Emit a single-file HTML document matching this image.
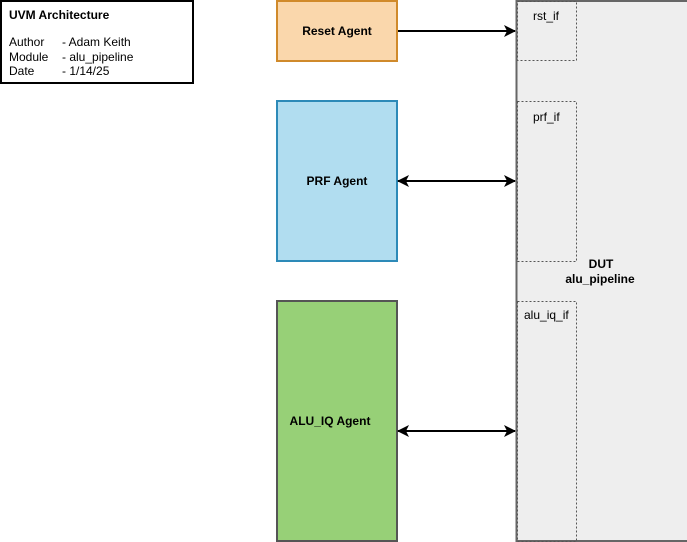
<!DOCTYPE html>
<html><head><meta charset="utf-8"><style>
html,body{margin:0;padding:0;background:#fff;width:687px;height:542px;overflow:hidden}
svg{display:block;font-family:"Liberation Sans",Arial,sans-serif}
</style></head><body>
<svg width="687" height="542" viewBox="0 0 687 542" xmlns="http://www.w3.org/2000/svg">
<defs>
<marker id="a" viewBox="0 0 12 12" refX="11" refY="6" markerWidth="12" markerHeight="12" markerUnits="userSpaceOnUse" orient="auto-start-reverse">
<path d="M0,0 L12,6 L0,12 L3,6 Z" fill="#000"/></marker>
</defs>
<rect x="1" y="1" width="192" height="82" fill="#fff" stroke="#000" stroke-width="2"/>
<text x="9" y="19" font-size="12" font-weight="bold">UVM Architecture</text>
<text font-size="12"><tspan x="9" y="46">Author</tspan><tspan x="9" y="61">Module</tspan><tspan x="9" y="75">Date</tspan></text>
<text font-size="12"><tspan x="62" y="46">- Adam Keith</tspan><tspan x="62" y="61">- alu_pipeline</tspan><tspan x="62" y="75">- 1/14/25</tspan></text>

<rect x="516.5" y="1" width="175" height="540" fill="#eeeeee" stroke="#666" stroke-width="2"/>
<g fill="none" stroke="#555" stroke-dasharray="2,2" stroke-width="1">
<rect x="517.5" y="1.5" width="59" height="59"/>
<rect x="517.5" y="101.5" width="59" height="160"/>
<rect x="517.5" y="301.5" width="59" height="240"/>
</g>
<text font-size="12"><tspan x="533" y="20">rst_if</tspan><tspan x="533" y="121">prf_if</tspan><tspan x="524" y="319">alu_iq_if</tspan></text>
<text font-size="12" font-weight="bold" text-anchor="middle"><tspan x="601" y="268">DUT</tspan><tspan x="600" y="283">alu_pipeline</tspan></text>

<rect x="277" y="1" width="120" height="60" fill="#fad7ac" stroke="#d08a2b" stroke-width="2"/>
<rect x="277" y="101" width="120" height="160" fill="#b1ddf0" stroke="#2d8ab8" stroke-width="2"/>
<rect x="277" y="301" width="120" height="240" fill="#97d077" stroke="#555" stroke-width="2"/>
<text font-size="12" font-weight="bold" text-anchor="middle"><tspan x="337" y="35">Reset Agent</tspan><tspan x="337" y="185">PRF Agent</tspan><tspan x="330" y="425">ALU_IQ Agent</tspan></text>

<g stroke="#000" stroke-width="2" fill="none">
<path d="M398 31 L515 31" marker-end="url(#a)"/>
<path d="M398 181 L515 181" marker-start="url(#a)" marker-end="url(#a)"/>
<path d="M398 431 L515 431" marker-start="url(#a)" marker-end="url(#a)"/>
</g>
</svg>
</body></html>
